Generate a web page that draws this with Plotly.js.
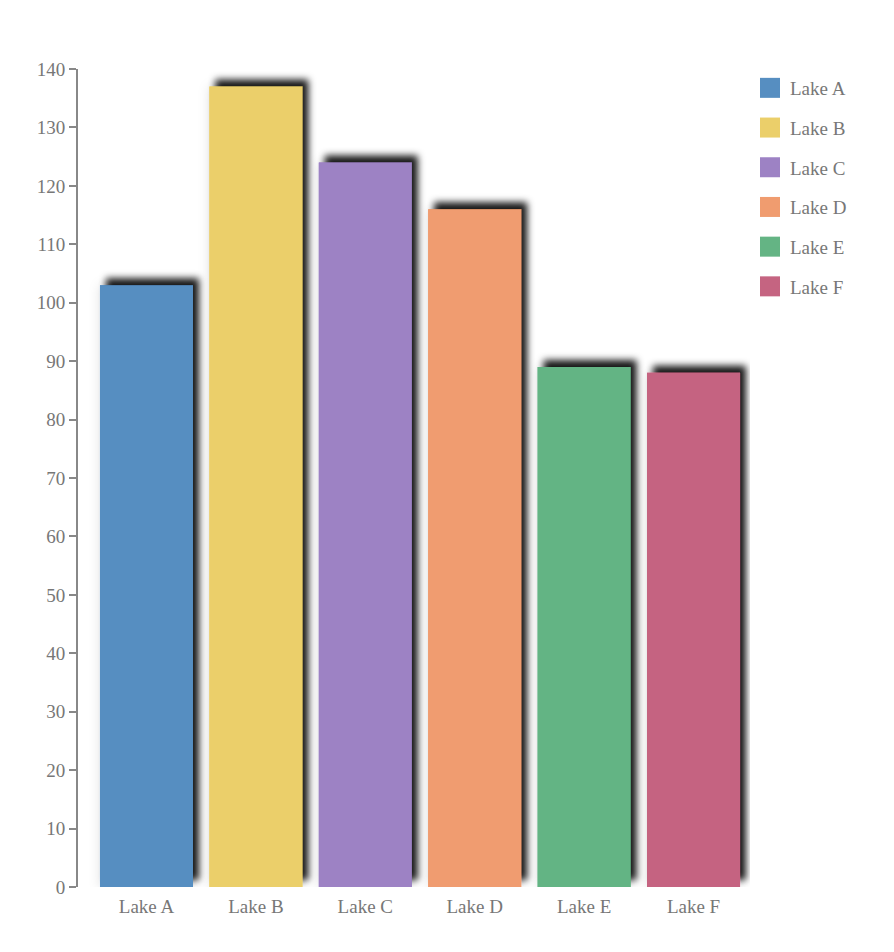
<!DOCTYPE html>
<html>
<head>
<meta charset="utf-8">
<script src="https://cdn.plot.ly/plotly-3.0.1.min.js"></script>
<style>
  html, body { margin: 0; padding: 0; background: #fff; }
  #chart { width: 894px; height: 952px; }
  .barlayer .point path { filter: url(#barShadow); }
</style>
</head>
<body>
<svg width="0" height="0" style="position:absolute">
  <defs>
    <filter id="barShadow" x="-30%" y="-30%" width="160%" height="160%">
      <feDropShadow dx="0" dy="0" stdDeviation="6" flood-color="#000" flood-opacity="0.12" result="halo"/>
      <feDropShadow in="SourceGraphic" dx="6" dy="-7" stdDeviation="3.5" flood-color="#000" flood-opacity="0.9" result="dark"/>
      <feMerge>
        <feMergeNode in="halo"/>
        <feMergeNode in="dark"/>
      </feMerge>
    </filter>
  </defs>
</svg>
<div id="chart"></div>
<script>
const categories = ["Lake A", "Lake B", "Lake C", "Lake D", "Lake E", "Lake F"];
const values = [103, 137, 124, 116, 89, 88];
const colors = ["#568ec1", "#ebcf6a", "#9d82c4", "#f09c6f", "#64b484", "#c56481"];
const yTicks = [0, 10, 20, 30, 40, 50, 60, 70, 80, 90, 100, 110, 120, 130, 140];

const textColor = "#777";
const fontFam = "Liberation Serif, Times New Roman, serif";
const fontSize = 19;

const traces = categories.map((c, i) => ({
  type: "bar",
  name: c,
  x: [c],
  y: [values[i]],
  marker: { color: colors[i], line: { width: 0 } },
  legendgroup: c,
  hoverinfo: "x+y"
}));

const layout = {
  width: 894,
  height: 952,
  margin: { l: 78, r: 144, t: 69, b: 65, pad: 0 },
  paper_bgcolor: "#fff",
  plot_bgcolor: "#fff",
  barmode: "overlay",
  bargap: 0.15,
  font: { family: fontFam, size: fontSize, color: textColor },
  xaxis: {
    type: "category",
    categoryorder: "array",
    categoryarray: categories,
    range: [-0.626, 5.516],
    showline: false,
    showgrid: false,
    zeroline: false,
    ticks: "outside",
    ticklen: 2,
    tickcolor: "rgba(0,0,0,0)",
    tickfont: { family: fontFam, size: fontSize, color: textColor },
    fixedrange: true
  },
  yaxis: {
    range: [0, 140],
    tickvals: yTicks,
    showline: true,
    linecolor: "#888",
    linewidth: 2,
    ticks: "outside",
    ticklen: 7,
    tickwidth: 1.5,
    tickcolor: "#888",
    showgrid: false,
    zeroline: false,
    tickfont: { family: fontFam, size: fontSize, color: textColor },
    fixedrange: true
  },
  showlegend: true,
  legend: {
    x: 1.0,
    xanchor: "left",
    y: 1.0,
    yanchor: "top",
    traceorder: "grouped",
    tracegroupgap: 12,
    font: { family: fontFam, size: fontSize, color: textColor },
    bgcolor: "rgba(0,0,0,0)",
    itemclick: false,
    itemdoubleclick: false
  }
};

Plotly.newPlot("chart", traces, layout, { displayModeBar: false }).then(gd => {
  // enlarge legend colour squares
  gd.querySelectorAll(".legend .legendpoints path").forEach(p => {
    p.setAttribute("d", "M10,10H-10V-10H10Z");
  });
});
</script>
</body>
</html>
